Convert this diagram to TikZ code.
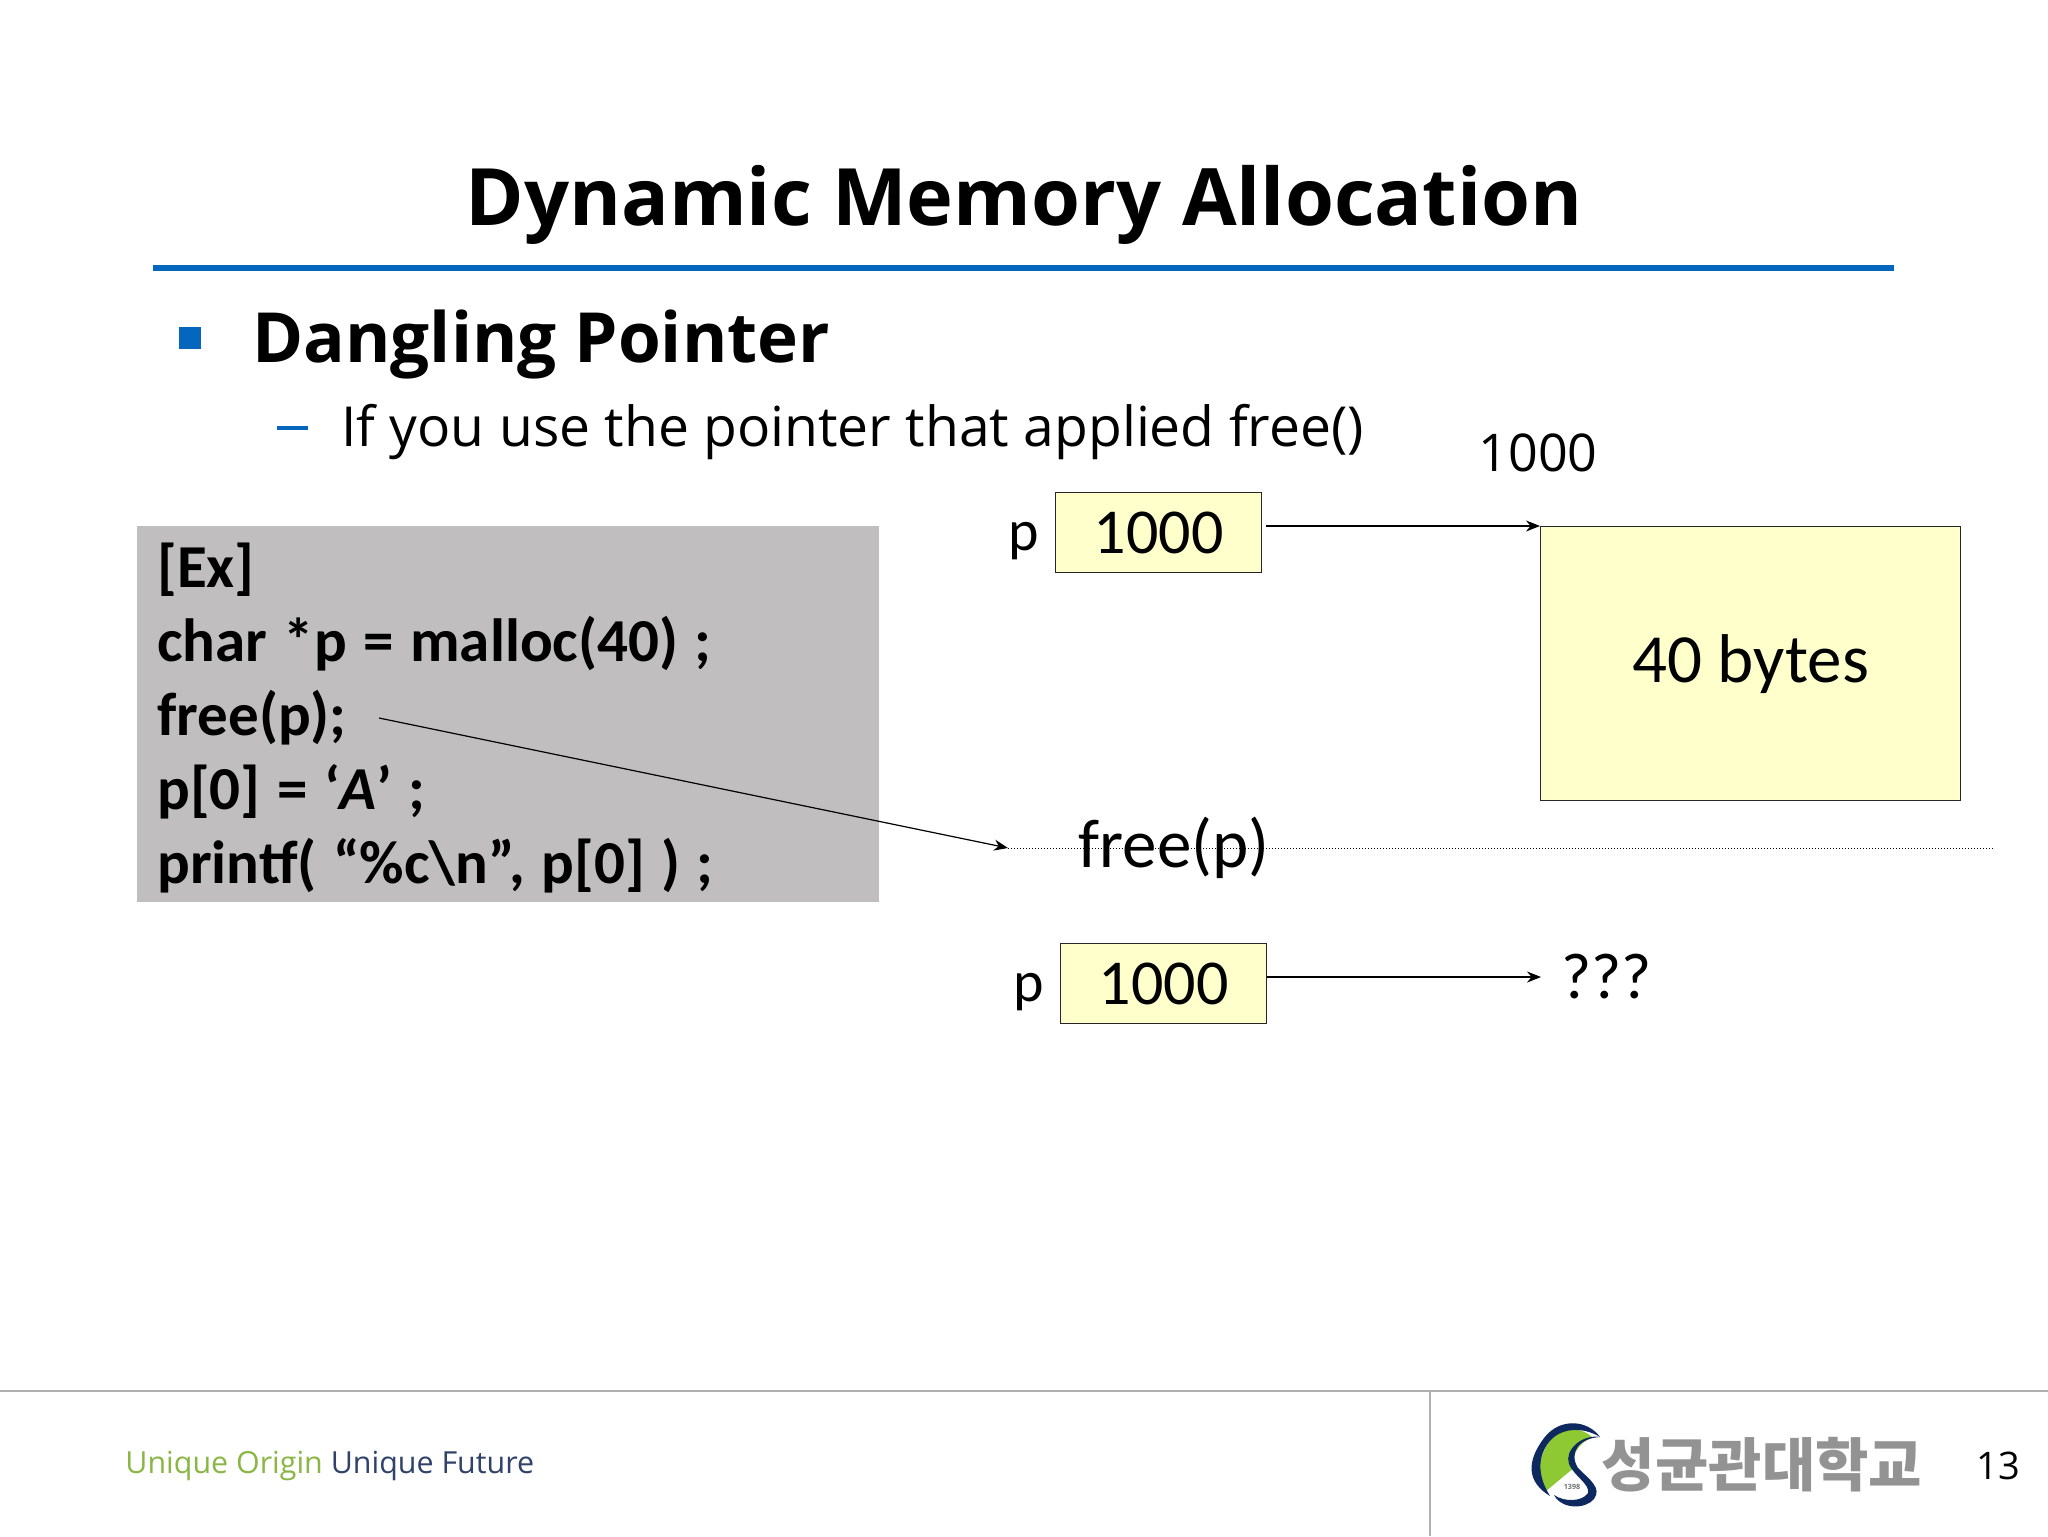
\documentclass[tikz,border=0pt]{standalone}
\usepackage{fontspec}
\setmainfont{Open Sans}
\newfontfamily\codefont{Carlito}
\newfontfamily\koreanfont{Noto Sans CJK KR}
\usetikzlibrary{positioning,arrows.meta}
\definecolor{slideblue}{RGB}{5,102,190}
\definecolor{codegray}{RGB}{192,190,191}
\definecolor{boxyellow}{RGB}{255,255,204}
\definecolor{footgray}{RGB}{176,176,178}
\definecolor{leafgreen}{RGB}{142,200,50}
\definecolor{logonavy}{RGB}{14,40,96}
\newcommand\codelook{\codefont\bfseries\fontsize{30.5}{37}\selectfont\spaceskip=.27em\relax}
\tikzset{
  memcell/.style={rectangle,draw=black!85,fill=boxyellow,line width=0.7pt,inner sep=0pt},
  handtext/.style={font=\codefont\fontsize{32}{38}\selectfont,inner sep=0pt},
  bigtext/.style={font=\codefont\fontsize{34.5}{40}\selectfont,inner sep=0pt},
  pointsto/.style={draw=black,line width=0.6pt,-{Stealth[length=7pt,width=5.5pt]}},
  footline/.style={draw=footgray,line width=1.2pt}
}
\begin{document}
\begin{tikzpicture}[x=0.5pt,y=-0.5pt]
\useasboundingbox[fill=white] (0,0) rectangle (2048,1536);
% header
\node[font=\bfseries\fontsize{39.6}{46}\selectfont,inner sep=0pt] (title) at (1024,205) {Dynamic Memory Allocation};
\coordinate (ruleL) at (153,268);
\coordinate (ruleR) at (1894,268);
\draw[slideblue,line width=2.6pt] (ruleL) -- (ruleR);
\node[fill=slideblue,minimum size=11pt,inner sep=0pt] (bullet) at (190,338) {};
\node[font=\bfseries\fontsize{34.6}{40}\selectfont,anchor=base west,inner sep=0pt] (topic) at (252,362) {Dangling Pointer};
\node[fill=slideblue,minimum width=15.5pt,minimum height=2pt,inner sep=0pt] (dash) at (292,428) {};
\node[font=\fontsize{27.6}{32}\selectfont,anchor=base west,inner sep=0pt] (subtopic) at (341,446) {If you use the pointer that applied free()};
% code
\node[fill=codegray,anchor=north west,minimum width=371pt,minimum height=188pt,inner sep=0pt] (codebg) at (137,526) {};
\node[anchor=north west,align=left,inner sep=0pt,font=\codelook] (code) at (157,543)
  {[Ex]\\char *p = malloc(40) ;\\free(p);\\p[0] = ‘\textit{A}’ ;\\printf( “\%c\textbackslash n”, p[0] ) ;};
% before free
\node[memcell,minimum width=103pt,minimum height=40pt,handtext,anchor=north west] (ptrtop) at (1055,492) {1000};
\node[font=\codefont\fontsize{29}{34}\selectfont,inner sep=0pt,left=8pt of ptrtop,yshift=-4pt] (ptop) {p};
\node[memcell,minimum width=210pt,minimum height=137pt,bigtext,anchor=north west] (heap) at (1540,526) {40 bytes};
\node[font=\fontsize{26}{30}\selectfont,inner sep=0pt] (addr) at (1538,453) {1000};
\draw[pointsto] ([xshift=2pt]ptrtop.east |- heap.north west) -- (heap.north west);
% free line
\coordinate (freefrom) at (379,718);
\coordinate (sepL) at (1008,848);
\coordinate (sepR) at (1993,848);
\node[bigtext] (freelabel) at (1174,848) {free(p)};
\draw[densely dotted,line width=0.5pt] (sepL) -- (sepR);
\draw[pointsto] (freefrom) -- (sepL);
% after free
\node[memcell,minimum width=103pt,minimum height=40pt,handtext,anchor=north west] (ptrlow) at (1060,943) {1000};
\node[font=\codefont\fontsize{29}{34}\selectfont,inner sep=0pt,left=8pt of ptrlow,yshift=-4pt] (plow) {p};
\coordinate (danglend) at (1541,977);
\draw[pointsto] (ptrlow.east |- danglend) -- (danglend);
\node[font=\codefont\fontsize{32.5}{38}\selectfont,inner sep=0pt,right=10pt of danglend] (unknown) {???};
% footer
\coordinate (footL) at (0,1391);
\coordinate (footR) at (2048,1391);
\coordinate (footT) at (1430,1391);
\coordinate (footB) at (1430,1536);
\draw[footline] (footL) -- (footR);
\draw[footline] (footT) -- (footB);
\node[anchor=west,font=\fontsize{15.2}{18}\selectfont,inner sep=0pt] (motto) at (125,1466) {\textcolor{leafgreen!75!gray}{Unique Origin} \textcolor{logonavy!70!gray}{Unique Future}};
% logo
\fill[leafgreen] (1592,1437) .. controls (1580,1426) and (1560,1426) .. (1549,1442) .. controls (1537,1460) and (1537,1478) .. (1546,1491) -- (1576,1466) .. controls (1570,1456) and (1578,1444) .. (1592,1437) -- cycle;
\fill[logonavy] (1600,1437) .. controls (1588,1420) and (1560,1417) .. (1544,1438) .. controls (1526,1462) and (1527,1482) .. (1550,1496) .. controls (1540,1480) and (1535,1460) .. (1549,1442) .. controls (1560,1428) and (1582,1426) .. (1600,1437) -- cycle;
\fill[logonavy] (1600,1437) .. controls (1580,1438) and (1568,1452) .. (1578,1468) .. controls (1590,1480) and (1602,1488) .. (1594,1499) .. controls (1586,1509) and (1562,1510) .. (1554,1495) .. controls (1564,1502) and (1582,1502) .. (1588,1493) .. controls (1590,1484) and (1574,1476) .. (1569,1464) .. controls (1564,1450) and (1582,1434) .. (1600,1437) -- cycle;
\node[font=\bfseries\fontsize{3.6}{4}\selectfont,text=black!55,inner sep=0pt] (logoyear) at (1572,1487) {1398};
\node[font=\koreanfont\bfseries\fontsize{29}{33}\selectfont,text=gray!85,inner sep=0pt] (univ) at (1762,1465) {성균관대학교};
\node[font=\fontsize{19}{22}\selectfont,inner sep=0pt] (pagenum) at (1998,1466) {13};
\end{tikzpicture}
\end{document}
